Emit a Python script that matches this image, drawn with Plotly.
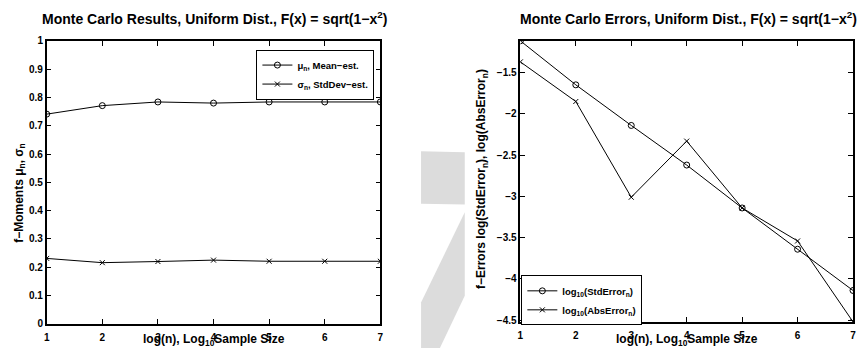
import plotly.graph_objects as go

# ---- data ----
log_n = [1, 2, 3, 4, 5, 6, 7]
mean_est = [0.741, 0.771, 0.784, 0.780, 0.784, 0.784, 0.784]
std_est = [0.231, 0.216, 0.220, 0.225, 0.221, 0.221, 0.221]
log_std_err = [-1.115, -1.648, -2.14, -2.62, -3.14, -3.64, -4.14]
log_abs_err = [-1.37, -1.85, -3.01, -2.33, -3.14, -3.54, -4.52]

left_yticks = [0, 0.1, 0.2, 0.3, 0.4, 0.5, 0.6, 0.7, 0.8, 0.9, 1]
right_yticks = [-4.5, -4, -3.5, -3, -2.5, -2, -1.5]
right_yticklabels = ["−4.5", "−4", "−3.5", "−3", "−2.5", "−2", "−1.5"]

W, H = 860, 354
FONT = "Liberation Sans, Arial, Helvetica, sans-serif"


def px(x):
    return x / W


def py(y):
    return 1 - y / H


fig = go.Figure()

line = dict(color="black", width=1)
fig.add_trace(go.Scatter(x=log_n, y=mean_est, mode="lines+markers", line=line,
                         marker=dict(symbol="circle-open", size=6, color="black", line=dict(width=1)),
                         name="μ<sub>n</sub>, Mean−est.", xaxis="x", yaxis="y", legend="legend"))
fig.add_trace(go.Scatter(x=log_n, y=std_est, mode="lines+markers", line=line,
                         marker=dict(symbol="x-thin-open", size=5, color="black", line=dict(width=1)),
                         name="σ<sub>n</sub>, StdDev−est.", xaxis="x", yaxis="y", legend="legend"))
fig.add_trace(go.Scatter(x=log_n, y=log_std_err, mode="lines+markers", line=line,
                         marker=dict(symbol="circle-open", size=6, color="black", line=dict(width=1)),
                         name="log<sub>10</sub>(StdError<sub>n</sub>)", xaxis="x2", yaxis="y2", legend="legend2"))
fig.add_trace(go.Scatter(x=log_n, y=log_abs_err, mode="lines+markers", line=line,
                         marker=dict(symbol="x-thin-open", size=5, color="black", line=dict(width=1)),
                         name="log<sub>10</sub>(AbsError<sub>n</sub>)", xaxis="x2", yaxis="y2", legend="legend2"))

axis_common = dict(showline=True, linecolor="black", linewidth=1.5, mirror="ticks",
                   ticks="inside", ticklen=5, tickwidth=1, tickcolor="black",
                   showgrid=False, zeroline=False,
                   tickfont=dict(family=FONT, size=10, color="black", weight="bold"))

legend_font = dict(family=FONT, size=9.5, color="black", weight="bold")

fig.update_layout(
    width=W, height=H,
    margin=dict(l=0, r=0, t=0, b=0),
    paper_bgcolor="white", plot_bgcolor="white",
    xaxis=dict(domain=[px(44), px(380)], range=[1, 7], tickvals=log_n, anchor="y",
               ticklabelstandoff=3, **axis_common),
    yaxis=dict(domain=[py(329), py(37)], range=[0, 1], tickvals=left_yticks, anchor="x", **axis_common),
    xaxis2=dict(domain=[px(521), px(856)], range=[1, 7], tickvals=log_n, anchor="y2",
                ticklabelstandoff=3, **axis_common),
    yaxis2=dict(domain=[py(327), py(37)], range=[-4.52, -1.115], tickmode="array",
                tickvals=right_yticks, ticktext=right_yticklabels, anchor="x2", **axis_common),
    legend=dict(x=px(374), xanchor="right", y=py(46), yanchor="top",
                bgcolor="white", bordercolor="black", borderwidth=1,
                font=legend_font, itemwidth=30, tracegroupgap=0),
    legend2=dict(x=px(522), xanchor="left", y=py(279), yanchor="top",
                 bgcolor="white", bordercolor="black", borderwidth=1,
                 font=legend_font, itemwidth=30, tracegroupgap=0),
    showlegend=True,
)

title_font = dict(family=FONT, size=14, color="black", weight="bold")
label_font = dict(family=FONT, size=12, color="black", weight="bold")


def ann(text, x, y, font, angle=0):
    return dict(text=text, x=px(x), y=py(y), xref="paper", yref="paper", showarrow=False,
                xanchor="center", yanchor="middle", textangle=angle, font=font)


annotations = [
    ann("Monte Carlo Results, Uniform Dist., F(x) = sqrt(1−x<sup>2</sup>)", 213, 13, title_font),
    ann("Monte Carlo Errors, Uniform Dist., F(x) = sqrt(1−x<sup>2</sup>)", 690, 13, title_font),
    ann("log(n), Log<sub>10</sub>Sample Size", 212, 346, label_font),
    ann("log(n), Log<sub>10</sub>Sample Size", 689, 346, label_font),
    ann("f−Moments μ<sub>n</sub>, σ<sub>n</sub>", 17, 194, label_font, -90),
    ann("f−Errors log(StdError<sub>n</sub>), log(AbsError<sub>n</sub>)", 483, 180, label_font, -90),
]
fig.update_layout(annotations=annotations)


def path(points):
    return "M " + " L ".join(f"{px(x):.4f},{py(y):.4f}" for x, y in points) + " Z"


gray = "#dcdcdc"
shapes = [
    dict(type="path", path=path([(421, 151), (465, 152), (465, 206), (421, 205)])),
    dict(type="path", path=path([(421, 307), (465, 214), (465, 300), (440, 354), (421, 354)])),
]
fig.update_layout(shapes=[dict(**s, xref="paper", yref="paper", fillcolor=gray,
                               line=dict(width=0), layer="below") for s in shapes])

fig.write_html("out.html", config={"displayModeBar": False},
               post_script="document.body.style.margin='0';document.body.style.overflow='hidden';")
